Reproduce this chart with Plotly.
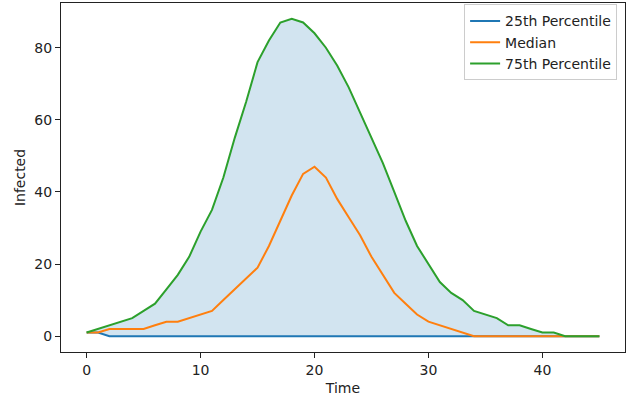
import plotly.graph_objects as go

# Data
time = list(range(46))

p25 = [1, 1] + [0] * 44

median = [1, 1, 2, 2, 2, 2, 3, 4, 4, 5,
          6, 7, 10, 13, 16, 19, 25, 32, 39, 45,
          47, 44, 38, 33, 28, 22, 17, 12, 9, 6,
          4, 3, 2, 1, 0, 0, 0, 0, 0, 0,
          0, 0, 0, 0, 0, 0]

p75 = [1, 2, 3, 4, 5, 7, 9, 13, 17, 22,
       29, 35, 44, 55, 65, 76, 82, 87, 88, 87,
       84, 80, 75, 69, 62, 55, 48, 40, 32, 25,
       20, 15, 12, 10, 7, 6, 5, 3, 3, 2,
       1, 1, 0, 0, 0, 0]

fig = go.Figure()

# Shaded band between 25th and 75th percentile
fig.add_trace(go.Scatter(
    x=time + time[::-1],
    y=p75 + p25[::-1],
    fill="toself",
    fillcolor="rgba(31,119,180,0.2)",
    line=dict(width=0),
    hoverinfo="skip",
    showlegend=False,
))

fig.add_trace(go.Scatter(x=time, y=p25, name="25th Percentile",
                         mode="lines", line=dict(color="#1f77b4", width=2)))
fig.add_trace(go.Scatter(x=time, y=median, name="Median",
                         mode="lines", line=dict(color="#ff7f0e", width=2)))
fig.add_trace(go.Scatter(x=time, y=p75, name="75th Percentile",
                         mode="lines", line=dict(color="#2ca02c", width=2)))

axis_style = dict(
    showline=True, mirror=True, linecolor="#222", linewidth=1,
    ticks="outside", ticklen=5, tickcolor="#222", tickwidth=1,
    showgrid=False, zeroline=False, automargin=False,
    tickfont=dict(family="DejaVu Sans", size=14, color="#222"),
    title_font=dict(family="DejaVu Sans", size=14, color="#222"),
)

fig.update_xaxes(axis_style, range=[-2.25, 47.25], tickvals=[0, 10, 20, 30, 40],
                 title_text="Time", title_standoff=6)
fig.update_yaxes(axis_style, range=[-4.4, 92.4], tickvals=[0, 20, 40, 60, 80],
                 title_text="Infected", title_standoff=5)

fig.update_layout(
    width=639,
    height=399,
    margin=dict(l=61, r=14, t=3, b=47),
    plot_bgcolor="white",
    paper_bgcolor="white",
    font=dict(family="DejaVu Sans", size=14, color="#222"),
    legend=dict(
        x=0.986, y=0.996, xanchor="right", yanchor="top",
        bgcolor="rgba(255,255,255,0.8)",
        bordercolor="#ccc", borderwidth=1,
        font=dict(family="DejaVu Sans", size=14, color="#222"),
        tracegroupgap=0, itemwidth=30,
    ),
)

# Remove the default page margin so the figure sits at the window's corner
fig.write_html("out.html",
               config={"displayModeBar": False},
               post_script="document.body.style.margin='0';")
